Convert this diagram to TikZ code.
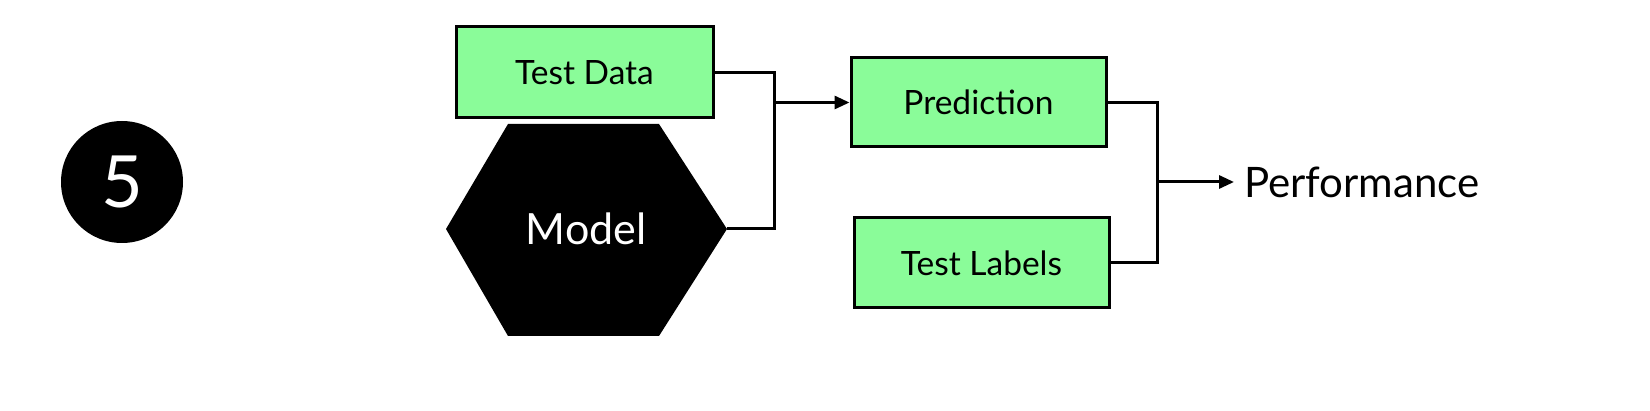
\documentclass[tikz,border=0pt]{standalone}
\usepackage{fontspec}
\setmainfont{Lato}
\usetikzlibrary{arrows.meta}
\definecolor{boxgreen}{RGB}{138,252,153}
\begin{document}
\begin{tikzpicture}[x=1pt,y=-1pt,
  box/.style={draw=black, line width=3pt, fill=boxgreen, inner sep=0pt, font=\fontsize{33.5}{38}\selectfont},
  conn/.style={line width=3pt},
  arr/.style={line width=3pt, -{Triangle[length=15pt,width=13pt]}}]
\useasboundingbox (0,0) rectangle (1650,411);
\node[circle, fill=black, minimum size=122pt, inner sep=0pt, text=white, font=\fontsize{72}{74}\selectfont] (stepnum) at (122,182) {5};
\node[box, minimum width=257pt, minimum height=91pt] (td) at (584.5,72.5) {Test Data};
\node[box, minimum width=255pt, minimum height=89pt] (pred) at (978.5,102.5) {Prediction};
\node[box, minimum width=255pt, minimum height=90pt] (tl) at (981.5,263) {Test Labels};
% hexagon
\fill[black] (508,124) -- (659,124) -- (727,229) -- (659,336) -- (508,336) -- (446,229) -- cycle;
\coordinate (modelE) at (727,229);
\node[text=white, font=\fontsize{43}{46}\selectfont] (model) at (586,229) {Model};
\node[anchor=west, inner sep=0pt, font=\fontsize{42}{46}\selectfont] (perf) at (1244,182) {Performance};
\coordinate (j1) at (774,0);
\coordinate (j2) at (1157.5,0);
\draw[conn] (td.east) -| (j1 |- modelE) -- (modelE);
\draw[arr] (j1 |- pred.west) -- (pred.west);
\draw[conn] (pred.east) -| (j2 |- tl.east) -- (tl.east);
\draw[arr] (j2 |- perf.west) -- ([xshift=-10pt]perf.west);
\end{tikzpicture}
\end{document}
